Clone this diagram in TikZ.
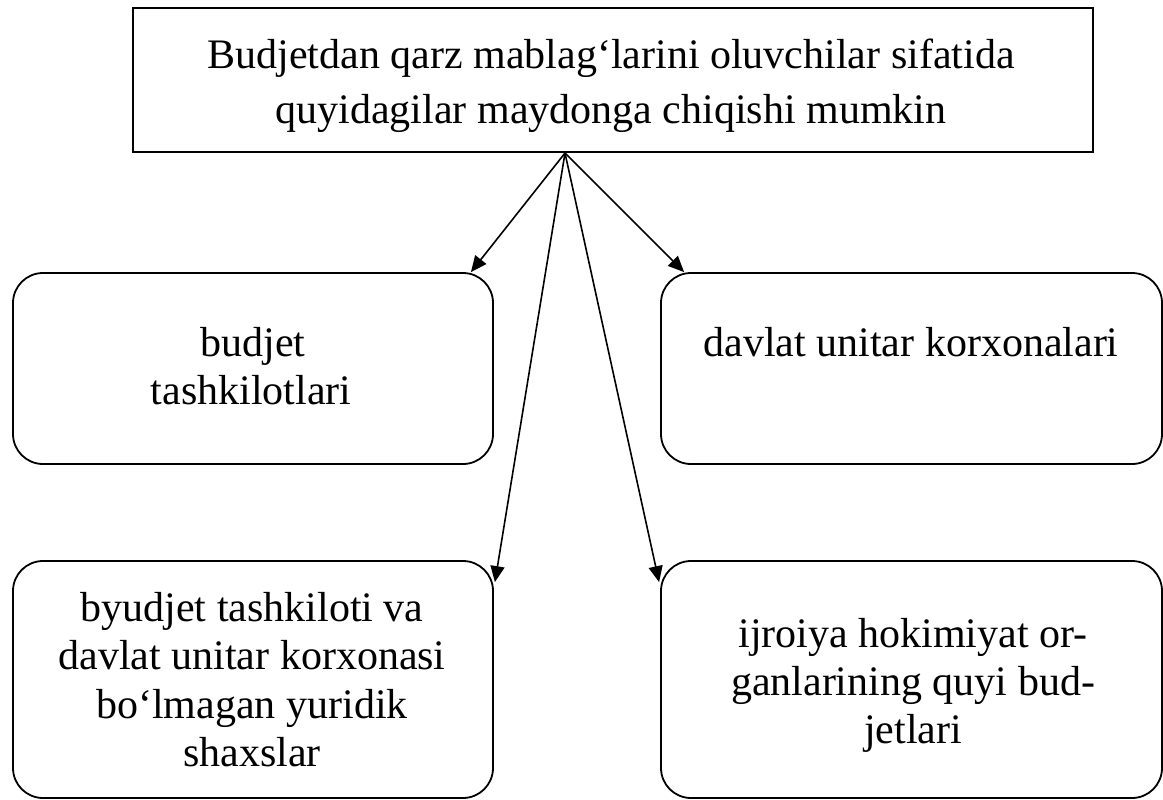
\documentclass[tikz,border=0pt]{standalone}
\usepackage{fontspec}
\setmainfont{Liberation Serif}
\usetikzlibrary{arrows.meta}
\begin{document}
\begin{tikzpicture}[x=1pt,y=-1pt,
  topbox/.style={draw,line width=2.1pt,inner sep=0pt,minimum width=960pt,minimum height=144pt},
  roundbox/.style={draw,line width=1.8pt,rounded corners=30pt,inner sep=0pt},
  txt/.style={anchor=base,inner sep=0pt,font=\fontsize{42}{48}\selectfont},
  arr/.style={line width=1.6pt,-{Triangle[length=16pt,width=14pt]}}]
\useasboundingbox (0,0) rectangle (1163,800);
% boxes
\node[topbox] (top) at (613,80) {};
\node[roundbox,minimum width=480pt,minimum height=191pt] (lm) at (253,368.5) {};
\node[roundbox,minimum width=501pt,minimum height=191pt] (rm) at (911.5,368.5) {};
\node[roundbox,minimum width=480pt,minimum height=237pt] (lb) at (253,679.5) {};
\node[roundbox,minimum width=501pt,minimum height=237pt] (rb) at (911.5,679.5) {};
% texts
\node[txt] (t1) at (611,69) {Budjetdan qarz mablag‘larini oluvchilar sifatida};
\node[txt] (t2) at (611,123) {quyidagilar maydonga chiqishi mumkin};
\node[txt] (lm1) at (253,356) {budjet};
\node[txt] (lm2) at (251,404) {tashkilotlari};
\node[txt] (rm1) at (911,356) {davlat unitar korxonalari};
\node[txt] (lb1) at (252,621) {byudjet tashkiloti va};
\node[txt] (lb2) at (252,669.5) {davlat unitar korxonasi};
\node[txt] (lb3) at (252,718) {bo‘lmagan yuridik};
\node[txt] (lb4) at (252,766.5) {shaxslar};
\node[txt] (rb1) at (913,647) {ijroiya hokimiyat or-};
\node[txt] (rb2) at (913,695) {ganlarining quyi bud-};
\node[txt] (rb3) at (913,743) {jetlari};
% connectors
\coordinate (o) at ([xshift=-48pt]top.south);
\draw[arr] (o) -- ([xshift=-23pt]lm.north east);
\draw[arr] (o) -- ([xshift=24pt]rm.north west);
\draw[arr] (o) -- ([xshift=1pt,yshift=-22pt]lb.north east);
\draw[arr] (o) -- ([xshift=-1pt,yshift=-22pt]rb.north west);
\end{tikzpicture}
\end{document}
